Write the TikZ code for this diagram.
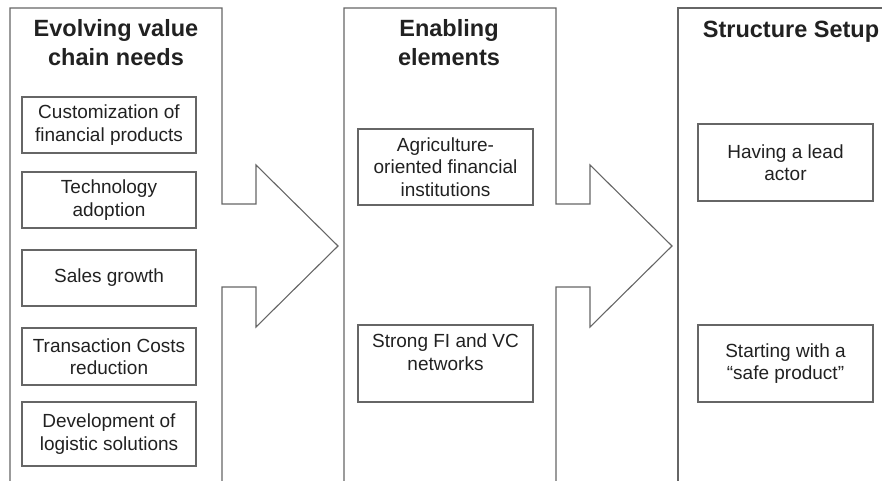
\documentclass[tikz,border=0pt]{standalone}
\usepackage{fontspec}
\setmainfont{Liberation Sans}
\definecolor{linegray}{gray}{0.4}
\definecolor{textgray}{gray}{0.13}
\begin{document}
\begin{tikzpicture}[x=1pt,y=-1pt,line join=miter,
  every node/.style={text=textgray},
  stage/.style={draw=linegray,line width=1.1pt},
  need/.style={draw=linegray,line width=1.3pt,align=center,minimum width=174pt,
    font=\fontsize{19}{22.5}\selectfont},
  head/.style={align=center,font=\bfseries\fontsize{23.5}{29}\selectfont}]
 \useasboundingbox (0,0) rectangle (882,481);
 \clip (0,0) rectangle (882,481);

 % stages, the first two with their arrows
 \foreach \dx in {0,334}
  \draw[stage] (10+\dx,500) -- (10+\dx,8) -- (222+\dx,8) -- (222+\dx,204) -- (256+\dx,204)
   -- (256+\dx,165) -- (338+\dx,246) -- (256+\dx,327) -- (256+\dx,287)
   -- (222+\dx,287) -- (222+\dx,500);
 \draw[stage] (678,500) -- (678,8) -- (900,8) -- (900,500);

 \node[head] (h1) at (116,43) {Evolving value\\chain needs};
 \node[head] (h2) at (449,43) {Enabling\\elements};
 \node[head] (h3) at (791,32) {Structure Setup};

 \node[need,minimum height=56pt] (n1) at (109,125) {Customization of\\financial products};
 \node[need,minimum height=56pt] (n2) at (109,200) {Technology\\adoption};
 \node[need,minimum height=56pt] (n3) at (109,278) {Sales growth};
 \node[need,minimum height=57pt] (n4) at (109,356.5) {Transaction Costs\\reduction};
 \node[need,minimum height=64pt] (n5) at (109,434) {Development of\\logistic solutions};

 \node[need,minimum width=175pt,minimum height=76pt] (e1) at (445.5,167) {Agriculture-\\oriented financial\\institutions};
 \node[need,minimum width=175pt,minimum height=77pt] (e2) at (445.5,363.5) {Strong FI and VC\\networks\\\mbox{}};

 \node[need,minimum width=175pt,minimum height=77pt] (s1) at (785.5,162.5) {Having a lead\\actor};
 \node[need,minimum width=175pt,minimum height=77pt] (s2) at (785.5,363.5) {Starting with a\\“safe product”};
\end{tikzpicture}
\end{document}
